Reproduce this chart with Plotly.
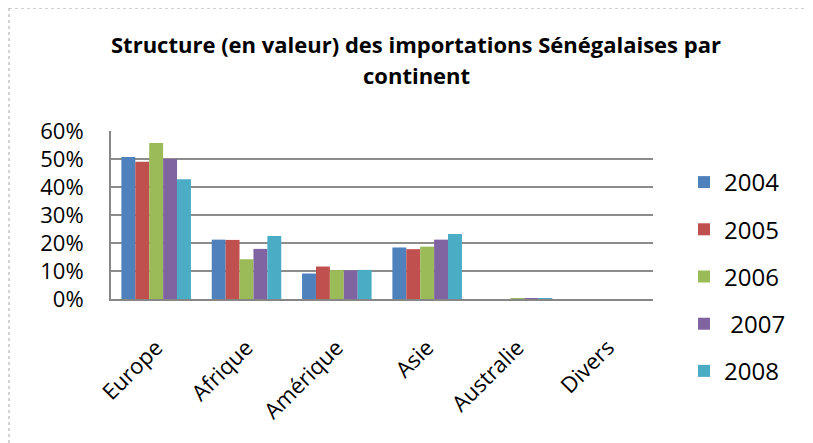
import plotly.graph_objects as go

categories = ["Europe", "Afrique", "Amérique", "Asie", "Australie", "Divers"]
years = ["2004", "2005", "2006", " 2007", "2008"]
v2004 = [0.507, 0.212, 0.091, 0.184, 0.000, 0.0]
v2005 = [0.490, 0.211, 0.116, 0.178, 0.000, 0.0]
v2006 = [0.557, 0.142, 0.103, 0.187, 0.003, 0.0]
v2007 = [0.500, 0.179, 0.102, 0.212, 0.003, 0.0]
v2008 = [0.428, 0.225, 0.104, 0.232, 0.003, 0.0]
series = [v2004, v2005, v2006, v2007, v2008]
colors = ["#4F81BD", "#C0504D", "#9BBB59", "#8064A2", "#4BACC6"]
y_ticks = [0, 0.1, 0.2, 0.3, 0.4, 0.5, 0.6]
title_lines = ["Structure (en valeur) des importations Sénégalaises par", "continent"]

# page body has an 8px margin; work in screen pixels and convert
OFF = 8
SW, SH = 813, 443
W, H = SW - OFF, SH - OFF
# plot area in screen pixels
PL, PR, PT, PB = 111, 653, 131, 299
L, T = PL - OFF, PT - OFF
R, B = SW - PR, SH - PB
PW, PH = PR - PL, PB - PT

def px(x):
    return (x - PL) / PW

def py(y):
    return (PB - y) / PH

FONT = "Open Sans"

fig = go.Figure()
for name, vals, col in zip(years, series, colors):
    fig.add_trace(go.Bar(x=categories, y=vals, name=name, marker_color=col,
                         marker_line_width=0, legendgroup=name))

fig.update_layout(
    width=W, height=H,
    margin=dict(l=L, r=R, t=T, b=B, autoexpand=False),
    paper_bgcolor="white", plot_bgcolor="white",
    barmode="group", bargap=0.23, bargroupgap=0,
    font=dict(family=FONT, size=22, color="black"),
    showlegend=True,
    legend=dict(x=px(684), y=py(160), xanchor="left", yanchor="top",
                font=dict(family=FONT, size=24, color="black"),
                tracegroupgap=13, bgcolor="rgba(0,0,0,0)", maxheight=400),
    xaxis=dict(tickangle=-45, showline=True, linecolor="#868686", linewidth=2,
               showgrid=False, ticks="", tickfont=dict(size=22),
               ticklabelstandoff=25),
    yaxis=dict(range=[0, 0.6], tickvals=y_ticks, tickformat=".0%",
               showline=True, linecolor="#868686", linewidth=2,
               showgrid=True, gridcolor="#8c8c8c", gridwidth=2,
               ticks="", zeroline=False, tickfont=dict(size=22),
               ticklabelstandoff=21),
)

for i, line in enumerate(title_lines):
    fig.add_annotation(text="<b>" + line + "</b>", xref="paper", yref="paper",
                       x=px(416), y=py(44 + 31 * i), xanchor="center", yanchor="middle",
                       showarrow=False, font=dict(family=FONT, size=22, color="black"))

# dotted chart-area border (left and top visible)
fig.add_shape(type="line", xref="paper", yref="paper", x0=px(9), x1=px(SW), y0=py(8), y1=py(8),
              line=dict(color="#a6a6a6", width=1, dash="dot"))
fig.add_shape(type="line", xref="paper", yref="paper", x0=px(9), x1=px(9), y0=py(8), y1=py(SH),
              line=dict(color="#a6a6a6", width=1, dash="dot"))

fig.write_html("out.html")
